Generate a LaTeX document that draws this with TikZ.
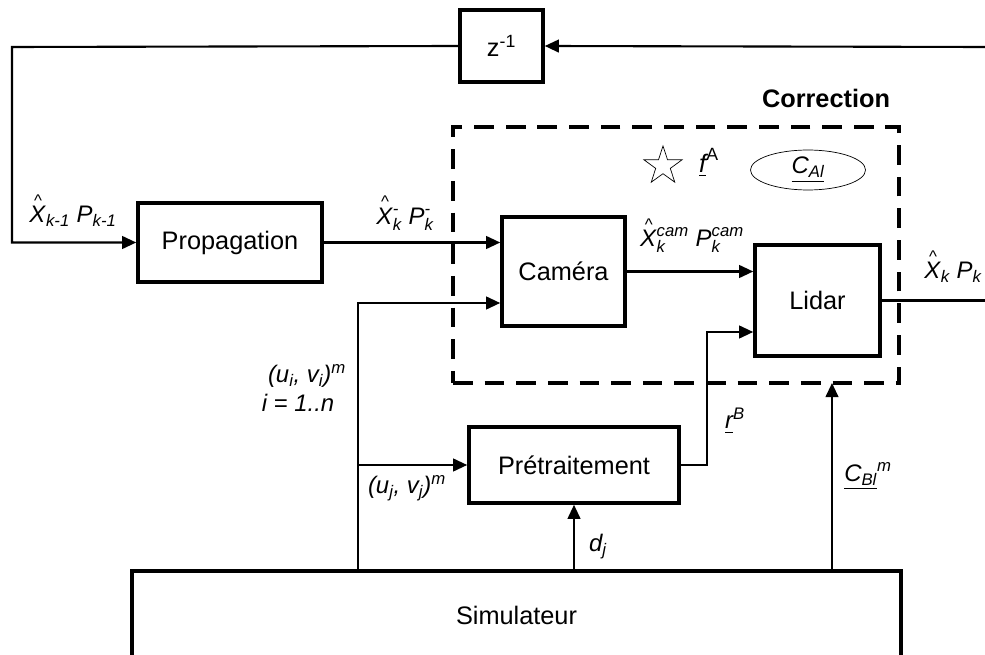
\RequirePackage{fix-cm}
\documentclass[tikz,border=0pt]{standalone}
\usepackage{amsmath}
\usepackage{fontspec}
\setmainfont{Liberation Sans}
\usetikzlibrary{arrows.meta,positioning,shapes.geometric,calc}

\newcommand{\sv}[1]{\textit{#1}}
\newcommand{\hX}{\text{\rlap{\hspace{0.2em}\raisebox{0.68em}[0pt][0pt]{\fontsize{12}{12}\selectfont\textasciicircum}}\textit{X}}}

\begin{document}
\begin{tikzpicture}[
  x=0.025cm, y=-0.025cm,
  block/.style={rectangle, draw, line width=2.5pt, fill=white,
                font=\fontsize{18}{21}\selectfont, inner sep=0pt},
  zone/.style={rectangle, draw, line width=2.3pt,
               dash pattern=on 14pt off 8.5pt},
  lbl/.style={font=\fontsize{17}{20}\selectfont, inner sep=1pt},
  link/.style={line width=1.5pt},
  >={Triangle[length=10pt,width=9pt]}
]
\useasboundingbox (0,0) rectangle (985,655);

% Correction zone
\node[zone, minimum width=11.15cm, minimum height=6.4cm] (corr) at (676,255) {};
\node[font=\bfseries\fontsize{18}{21}\selectfont] (corrlbl) at (826,98) {Correction};

% Blocks
\node[block, minimum width=2.075cm, minimum height=1.8cm] (delay) at (501.5,46) {z\textsuperscript{-1}};
\node[block, minimum width=4.6cm, minimum height=1.975cm] (prop) at (230,242.5) {Propagation};
\node[block, minimum width=3.075cm, minimum height=2.725cm] (cam) at (563.5,271.5) {Caméra};
\node[block, minimum width=3.125cm, minimum height=2.775cm] (lidar) at (817.5,300.5) {Lidar};
\node[block, minimum width=5.25cm, minimum height=1.9cm] (pretr) at (574,465) {Prétraitement};
\node[block, line width=2.9pt, minimum width=19.225cm, minimum height=2.2cm] (simu) at (516.5,615) {Simulateur};

% Symbols inside the zone
\node[star, star points=5, star point ratio=2.6, draw, line width=0.5pt,
      minimum size=1.0cm, inner sep=0pt] (star) at (663,166) {};
\node[lbl, font=\fontsize{18}{21}\selectfont] (fA) at (709,163) {$\underline{\sv{f}}^{\text{A}}$};
\node[ellipse, draw, line width=0.5pt, minimum width=2.875cm, minimum height=0.8cm,
      lbl] (cal) at (808,170) {$\underline{\sv{C}_{\sv{Al}}}$};

% Signal labels
\node[lbl] (xkm1) at (73,216) {$\hX_{\sv{k-1}}\ \sv{P}_{\sv{k-1}}$};
\node[lbl] (xkprior) at (405,219) {$\hX_{\sv{k}}^{\sv{-}}\ \sv{P}_{\sv{k}}^{\sv{-}}$};
\node[lbl] (xkcam) at (692,240) {$\hX_{\sv{k}}^{\sv{cam}}\ \sv{P}_{\sv{k}}^{\sv{cam}}$};
\node[lbl] (xkout) at (953,272) {$\hX_{\sv{k}}\ \sv{P}_{\sv{k}}$};
\node[lbl] (uivi) at (307,376) {\textit{(u\textsubscript{i}, v\textsubscript{i})\textsuperscript{m}}};
\node[lbl] (irange) at (298,403) {\textit{i = 1..n}};
\node[lbl] (ujvj) at (407,488) {\textit{(u\textsubscript{j}, v\textsubscript{j})\textsuperscript{m}}};
\node[lbl] (rB) at (735,421) {$\underline{\sv{r}}^{\sv{B}}$};
\node[lbl] (dj) at (598,547) {$\sv{d}_{\sv{j}}$};
\node[lbl] (cbl) at (868,476) {$\underline{\sv{C}_{\sv{Bl}}}^{\sv{m}}$};

% Free ends and bends
\coordinate (fbin) at (985,47);
\coordinate (fbx) at (12,47);
\coordinate (xout) at (985,300.5);
\coordinate (ubus) at (358,303);
\coordinate (rbus) at (707,332);
\coordinate (corrin) at (832,383);

% Feedback loop
\draw[link,->] (fbin) -- (delay.east);
\draw[link,->] (delay.west) -- (fbx) |- (prop.west);

% Main chain
\draw[link,->] (prop.east) -- (prop.east -| cam.west);
\draw[link,->] (cam.east) -- (cam.east -| lidar.west);
\draw[link] (lidar.east) -- (xout);

% Measurements from the simulator
\draw[link,->] (simu.north -| ubus) -- (ubus) -- (ubus -| cam.west);
\draw[link,->] (ubus |- pretr.west) -- (pretr.west);
\draw[link,->] (pretr.east) -| (rbus) -- (rbus -| lidar.west);
\draw[link,->] (simu.north -| pretr.south) -- (pretr.south);
\draw[link,->] (simu.north -| corrin) -- (corrin);

\end{tikzpicture}
\end{document}
